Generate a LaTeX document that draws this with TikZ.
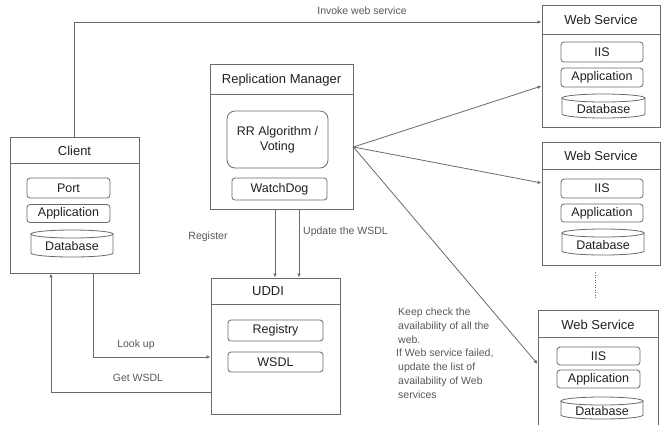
\documentclass[tikz,border=0pt]{standalone}
\usepackage{fontspec}
\setmainfont{Liberation Sans}
\usetikzlibrary{arrows.meta}
\definecolor{lc}{gray}{0.42}
\definecolor{tc}{gray}{0.13}
\definecolor{lc2}{gray}{0.35}
\tikzset{
 box/.style={draw=lc, line width=0.9pt, inner sep=0pt},
 inbox/.style={draw=lc, line width=0.8pt, rounded corners=3pt, inner sep=0pt, font=\fontsize{12.5}{14}\selectfont, text=tc},
 ttl/.style={font=\fontsize{13}{15}\selectfont, text=tc, inner sep=0pt},
 lbl/.style={font=\fontsize{10.5}{13}\selectfont, text=lc2, inner sep=0pt},
 arr/.style={draw=lc, line width=0.8pt, -{Latex[length=4pt,width=3.5pt]}},
 hdr/.style={draw=lc, line width=0.9pt},
 dbl/.style={draw=lc, line width=0.8pt},
 dbtext/.style={font=\fontsize{12.5}{14}\selectfont, text=tc, inner sep=0pt},
}
\newcommand\dbcyl[5]{%
 \draw[dbl] (#2-#5,#3+4) -- (#2-#5,#4-4) arc[start angle=180,end angle=360,x radius=#5pt,y radius=4pt] -- (#2+#5,#3+4);
 \draw[dbl] (#2,#3+4) ellipse[x radius=#5pt, y radius=4pt];
 \node[dbtext] (#1) at (#2,{(#3+#4)/2+3}) {Database};}
\begin{document}
\begin{tikzpicture}[x=1pt,y=-1pt]
\clip (0,0) rectangle (671,424);
\fill[white] (0,0) rectangle (671,424);

% Client
\node[box, minimum width=129pt, minimum height=136pt] (client) at (74.5,205) {};
\draw[hdr] (client.west |- 0,163) -- (client.east |- 0,163);
\node[ttl] (clientt) at (74.5,151) {Client};
\node[inbox, minimum width=83pt, minimum height=20pt] (cport) at (68.5,188) {Port};
\node[inbox, minimum width=83pt, minimum height=18pt] (capp) at (68.5,213.5) {Application};
\dbcyl{cdb}{72}{230}{257}{41}

% Replication Manager
\node[box, minimum width=143pt, minimum height=145pt] (rm) at (281.5,136.5) {};
\draw[hdr] (rm.west |- 0,94) -- (rm.east |- 0,94);
\node[ttl] (rmt) at (281.5,80) {Replication Manager};
\node[inbox, rounded corners=8pt, minimum width=101pt, minimum height=57pt, align=center] (rr) at (277.5,139.5) {RR Algorithm /\\[1pt]Voting};
\node[inbox, minimum width=95pt, minimum height=22pt] (wd) at (279.5,189) {WatchDog};

% UDDI
\node[box, minimum width=129pt, minimum height=136pt] (uddi) at (275.5,346) {};
\draw[hdr] (uddi.west |- 0,304) -- (uddi.east |- 0,304);
\node[ttl] (uddit) at (268,291) {UDDI};
\node[inbox, minimum width=95pt, minimum height=21pt] (reg) at (275.5,330.5) {Registry};
\node[inbox, minimum width=95pt, minimum height=20pt] (wsdl) at (275.5,362) {WSDL};

% Web Service 1
\node[box, minimum width=118pt, minimum height=122pt] (ws1) at (601,66) {};
\draw[hdr] (ws1.west |- 0,34) -- (ws1.east |- 0,34);
\node[ttl] (ws1t) at (601,20) {Web Service};
\node[inbox, minimum width=82pt, minimum height=20pt] (ws1i) at (602,52) {IIS};
\node[inbox, minimum width=82pt, minimum height=19pt] (ws1a) at (602,77.5) {Application};
\dbcyl{ws1d}{603.5}{94}{118}{41.5}

% Web Service 2
\node[box, minimum width=118pt, minimum height=123pt] (ws2) at (601,203.5) {};
\draw[hdr] (ws2.west |- 0,169) -- (ws2.east |- 0,169);
\node[ttl] (ws2t) at (601,156) {Web Service};
\node[inbox, minimum width=82pt, minimum height=19pt] (ws2i) at (602,188.5) {IIS};
\node[inbox, minimum width=82pt, minimum height=18pt] (ws2a) at (602,213) {Application};
\dbcyl{ws2d}{603}{229}{255}{41}

% Web Service 3
\node[box, minimum width=120pt, minimum height=120pt] (ws3) at (598,370) {};
\draw[hdr] (ws3.west |- 0,337) -- (ws3.east |- 0,337);
\node[ttl] (ws3t) at (598,325) {Web Service};
\node[inbox, minimum width=83pt, minimum height=18pt] (ws3i) at (598.5,356) {IIS};
\node[inbox, minimum width=83pt, minimum height=18pt] (ws3a) at (598.5,379) {Application};
\dbcyl{ws3d}{602}{397}{419}{41}

% dots
\coordinate (dtop) at (595,272);
\coordinate (dbot) at (595,298);
\draw[draw=lc, line width=1pt, dash pattern=on 1pt off 1.5pt] (dtop) -- (dbot);

% connectors
\draw[arr] (client.north) |- (ws1.west |- 0,22);
\node[lbl] (linv) at (362,11) {Invoke web service};

\draw[arr] (client.south -| 93,0) |- (uddi.west |- 0,357);
\node[lbl] (llook) at (136,345) {Look up};
\draw[arr] (uddi.west |- 0,392) -| (client.south -| 51,0);
\node[lbl] (lget) at (138,378) {Get WSDL};

\draw[arr] (rm.south -| 275,0) -- (uddi.north -| 275,0);
\node[lbl] (lreg) at (208,237) {Register};
\draw[arr] (rm.south -| 299,0) -- (uddi.north -| 299,0);
\node[lbl, anchor=west] (lupd) at (303,232) {Update the WSDL};

\coordinate (fan) at (rm.east |- 0,147);
\draw[arr] (fan) -- (ws1.west |- 0,86);
\draw[arr] (fan) -- (ws2.west |- 0,183);
\draw[arr] (fan) -- (ws3.west |- 0,364);

\node[lbl, anchor=north west, align=left, font=\fontsize{10.5}{13.7}\selectfont] (lkeep) at (396,308)
 {\hspace{2pt}Keep check the\\\hspace{2pt}availability of all the\\\hspace{2pt}web.\\If Web service failed,\\\hspace{2pt}update the list of\\\hspace{2pt}availability of Web\\\hspace{2pt}services};
\end{tikzpicture}
\end{document}
